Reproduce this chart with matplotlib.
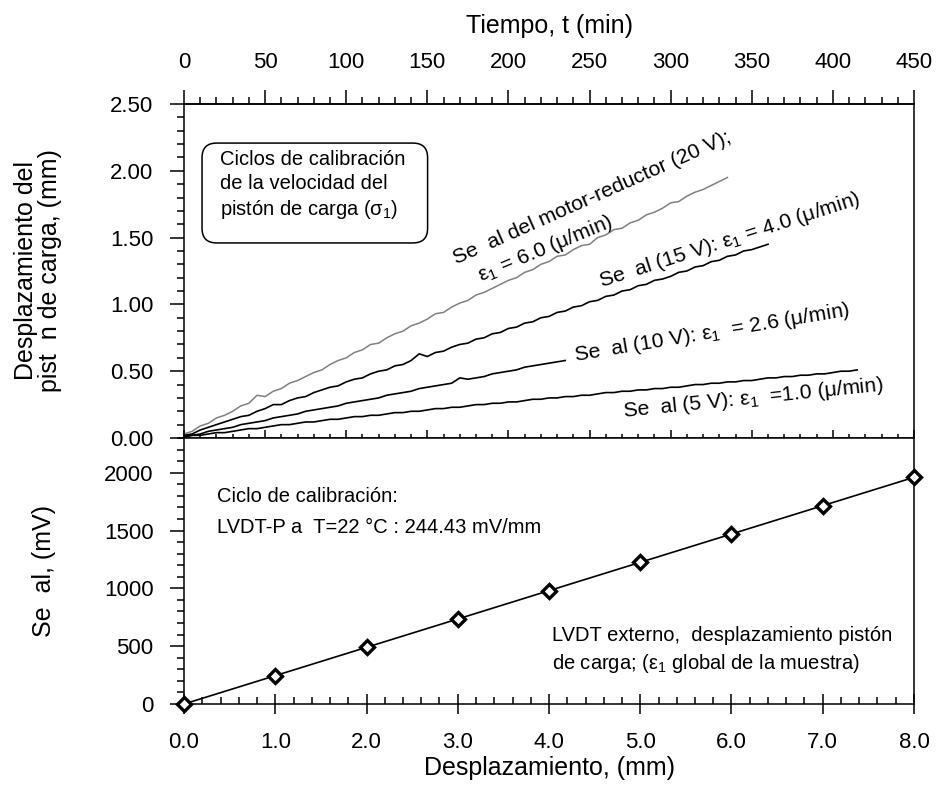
import matplotlib
matplotlib.use('Agg')
import matplotlib.pyplot as plt
import numpy as np
from matplotlib.patches import FancyBboxPatch
from matplotlib.ticker import MultipleLocator, FormatStrFormatter

plt.rcParams['font.family'] = ['Liberation Sans', 'DejaVu Sans']
plt.rcParams['mathtext.fontset'] = 'custom'
plt.rcParams['mathtext.rm'] = 'Liberation Sans'
plt.rcParams['mathtext.it'] = 'Liberation Sans:italic'
plt.rcParams['mathtext.bf'] = 'Liberation Sans:bold'

# --- top panel: piston displacement (mm) vs time (min), sampled every 5 min ---
t_20v = np.arange(0, 340, 5)
d_20v = [0.03, 0.05, 0.09, 0.11, 0.15, 0.17, 0.20, 0.24, 0.26, 0.32,
         0.31, 0.35, 0.37, 0.41, 0.43, 0.46, 0.49, 0.51, 0.55, 0.58,
         0.60, 0.64, 0.66, 0.70, 0.71, 0.75, 0.78, 0.80, 0.84, 0.86,
         0.89, 0.93, 0.94, 0.98, 1.01, 1.03, 1.07, 1.09, 1.12, 1.15,
         1.18, 1.20, 1.24, 1.26, 1.30, 1.32, 1.36, 1.37, 1.41, 1.44,
         1.45, 1.50, 1.52, 1.56, 1.57, 1.61, 1.63, 1.67, 1.69, 1.72,
         1.76, 1.77, 1.81, 1.84, 1.86, 1.89, 1.92, 1.95]

t_15v = np.arange(0, 365, 5)
d_15v = [0.02, 0.03, 0.06, 0.08, 0.10, 0.12, 0.14, 0.16, 0.17, 0.20,
         0.22, 0.25, 0.25, 0.28, 0.30, 0.31, 0.34, 0.36, 0.38, 0.39,
         0.42, 0.44, 0.45, 0.48, 0.50, 0.51, 0.54, 0.55, 0.58, 0.63,
         0.61, 0.64, 0.65, 0.68, 0.70, 0.71, 0.74, 0.75, 0.78, 0.79,
         0.82, 0.83, 0.86, 0.87, 0.90, 0.91, 0.94, 0.95, 0.98, 0.99,
         1.02, 1.03, 1.06, 1.07, 1.10, 1.11, 1.14, 1.15, 1.18, 1.19,
         1.21, 1.24, 1.25, 1.28, 1.29, 1.32, 1.33, 1.36, 1.37, 1.40,
         1.41, 1.43, 1.45]

t_10v = np.arange(0, 240, 5)
d_10v = [0.01, 0.02, 0.03, 0.05, 0.06, 0.07, 0.08, 0.10, 0.11, 0.12,
         0.13, 0.15, 0.16, 0.17, 0.18, 0.20, 0.21, 0.22, 0.23, 0.24,
         0.26, 0.27, 0.28, 0.29, 0.30, 0.32, 0.33, 0.34, 0.35, 0.37,
         0.38, 0.39, 0.40, 0.41, 0.45, 0.44, 0.45, 0.46, 0.48, 0.49,
         0.50, 0.51, 0.53, 0.54, 0.55, 0.56, 0.57, 0.58]

t_5v = np.arange(0, 420, 5)
d_5v = [0.01, 0.02, 0.02, 0.03, 0.04, 0.04, 0.05, 0.06, 0.07, 0.07,
        0.08, 0.09, 0.10, 0.10, 0.11, 0.12, 0.12, 0.13, 0.14, 0.14,
        0.15, 0.16, 0.16, 0.17, 0.17, 0.18, 0.19, 0.19, 0.20, 0.20,
        0.21, 0.22, 0.22, 0.23, 0.23, 0.24, 0.25, 0.25, 0.26, 0.26,
        0.27, 0.27, 0.28, 0.29, 0.29, 0.30, 0.30, 0.31, 0.31, 0.32,
        0.32, 0.33, 0.34, 0.34, 0.35, 0.35, 0.36, 0.36, 0.37, 0.37,
        0.38, 0.38, 0.39, 0.40, 0.40, 0.41, 0.41, 0.42, 0.42, 0.43,
        0.43, 0.44, 0.45, 0.45, 0.46, 0.46, 0.47, 0.47, 0.48, 0.48,
        0.49, 0.50, 0.50, 0.51]

# --- bottom panel: LVDT calibration ---
cal_disp = [0.0, 1.0, 2.0, 3.0, 4.0, 5.0, 6.0, 7.0, 8.0]
cal_mv = [0, 245, 490, 735, 980, 1225, 1470, 1715, 1960]

FS_TICK = 16
FS_LAB = 18
FS_TXT = 14.5
FS_CURVE = 15.2

fig = plt.figure(figsize=(9.4, 7.94), dpi=100)
ax_t = fig.add_axes([184 / 940, 1 - 438 / 794, 730 / 940, 334 / 794])
ax_c = fig.add_axes([184 / 940, 1 - 704 / 794, 730 / 940, 266 / 794])

# top panel curves
ax_t.plot(t_20v, d_20v, color='#808080', lw=1.1)
ax_t.plot(t_15v, d_15v, color='black', lw=1.2)
ax_t.plot(t_10v, d_10v, color='black', lw=1.2)
ax_t.plot(t_5v, d_5v, color='black', lw=1.2)

ax_t.set_xlim(0, 450)
ax_t.set_ylim(0, 2.5)
ax_t.xaxis.set_major_locator(MultipleLocator(50))
ax_t.xaxis.set_minor_locator(MultipleLocator(10))
ax_t.yaxis.set_major_locator(MultipleLocator(0.5))
ax_t.yaxis.set_minor_locator(MultipleLocator(0.1))
ax_t.yaxis.set_major_formatter(FormatStrFormatter('%.2f'))
ax_t.tick_params(axis='x', which='both', direction='in', bottom=True, top=False,
                 labelbottom=False, width=1.1)
ax_t.tick_params(axis='x', which='major', length=6)
ax_t.tick_params(axis='x', which='minor', length=3)
ax_t.tick_params(axis='y', which='both', direction='out', left=True, right=False,
                 width=1.1, labelsize=FS_TICK, pad=12)
ax_t.tick_params(axis='y', which='major', length=10)
ax_t.tick_params(axis='y', which='minor', length=5)

ax_time = ax_t.secondary_xaxis('top')
ax_time.xaxis.set_major_locator(MultipleLocator(50))
ax_time.xaxis.set_minor_locator(MultipleLocator(10))
ax_time.tick_params(which='both', direction='out', width=1.1, labelsize=FS_TICK, pad=12)
ax_time.tick_params(which='major', length=10)
ax_time.tick_params(which='minor', length=5)
ax_time.set_xlabel('Tiempo, t (min)', fontsize=FS_LAB, labelpad=14)

ax_t.set_ylabel('Desplazamiento del\npist  n de carga, (mm)', fontsize=FS_LAB,
                va='center', linespacing=1.05)
ax_t.yaxis.set_label_coords(-0.2, 0.5)

for sp in ax_t.spines.values():
    sp.set_linewidth(1.1)
ax_time.spines['top'].set_linewidth(1.1)

# rounded note box
box = FancyBboxPatch((0.0247, 0.584), 0.309, 0.299, transform=ax_t.transAxes,
                     boxstyle='round,pad=0,rounding_size=0.02',
                     mutation_aspect=730 / 334, fc='white', ec='black', lw=1.1)
ax_t.add_patch(box)
ax_t.text(0.049, 0.862, 'Ciclos de calibración\nde la velocidad del\npistón de carga (σ$_1$)',
          transform=ax_t.transAxes, ha='left', va='top', fontsize=FS_TXT, linespacing=1.3)

# curve labels
lbl = dict(ha='center', va='center', rotation_mode='anchor', fontsize=FS_CURVE)
ax_t.text(251.5, 1.80, 'Se  al del motor-reductor (20 V);', rotation=24, **lbl)
ax_t.text(223, 1.415, 'ε$_1$ = 6.0 (μ/min)', rotation=22.5, **lbl)
ax_t.text(336.6, 1.48, 'Se  al (15 V): ε$_1$ = 4.0 (μ/min)', rotation=17.8, **lbl)
ax_t.text(325.5, 0.786, 'Se  al (10 V): ε$_1$  = 2.6 (μ/min)', rotation=9.4, **lbl)
ax_t.text(351, 0.30, 'Se  al (5 V): ε$_1$  =1.0 (μ/min)', rotation=5.8, **lbl)

# bottom panel: calibration line
ax_c.plot(cal_disp, cal_mv, color='black', lw=1.2, marker='D', ms=7,
          mfc='white', mec='black', mew=2.4, clip_on=False, zorder=3)
ax_c.set_xlim(0, 8)
ax_c.set_ylim(0, 2300)
ax_c.xaxis.set_major_locator(MultipleLocator(1))
ax_c.xaxis.set_minor_locator(MultipleLocator(0.2))
ax_c.xaxis.set_major_formatter(FormatStrFormatter('%.1f'))
ax_c.yaxis.set_major_locator(MultipleLocator(500))
ax_c.yaxis.set_minor_locator(MultipleLocator(100))
ax_c.tick_params(axis='x', which='major', direction='inout', length=14.4, width=1.1,
                 labelsize=FS_TICK, pad=13)
ax_c.tick_params(axis='x', which='minor', direction='in', length=5, width=1.1)
ax_c.tick_params(axis='y', which='both', direction='out', width=1.1,
                 labelsize=FS_TICK, pad=12)
ax_c.tick_params(axis='y', which='major', length=10)
ax_c.tick_params(axis='y', which='minor', length=5)
ax_c.set_xlabel('Desplazamiento, (mm)', fontsize=FS_LAB, labelpad=2)
ax_c.set_ylabel('Se  al, (mV)', fontsize=FS_LAB, va='center')
ax_c.yaxis.set_label_coords(-0.192, 0.5)
for sp in ax_c.spines.values():
    sp.set_linewidth(1.1)

ax_c.text(0.36, 1790, 'Ciclo de calibración:', ha='left', va='center', fontsize=FS_TXT)
ax_c.text(0.36, 1522, 'LVDT-P a  T=22 °C : 244.43 mV/mm', ha='left', va='center',
          fontsize=FS_TXT)
ax_c.text(4.03, 590, 'LVDT externo,  desplazamiento pistón', ha='left', va='center',
          fontsize=FS_TXT)
ax_c.text(4.03, 350, 'de carga; (ε$_1$ global de la muestra)', ha='left', va='center',
          fontsize=FS_TXT)

fig.savefig('out.png', dpi=100)
